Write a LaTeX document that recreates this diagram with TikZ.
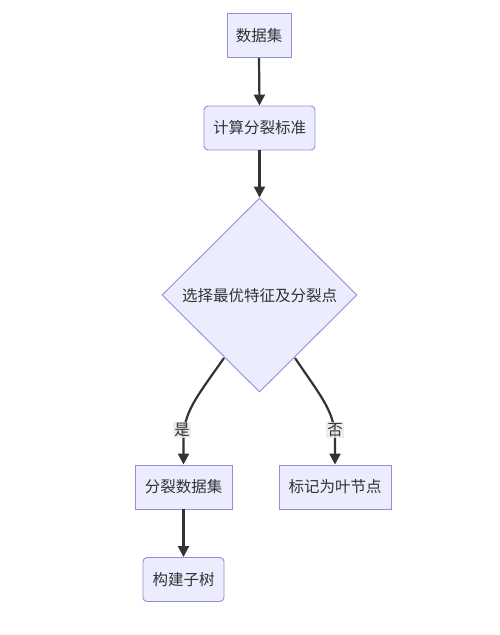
\documentclass[tikz,border=0pt]{standalone}
\usepackage{fontspec}
\setmainfont{Noto Sans CJK SC}
\usetikzlibrary{shapes.geometric,arrows.meta}
\definecolor{nodefill}{HTML}{ECECFF}
\definecolor{nodeline}{HTML}{9A8BD6}
\definecolor{edgecol}{HTML}{333333}
\definecolor{lblbg}{HTML}{E8E8E8}
\tikzset{
  box/.style={draw=nodeline, fill=nodefill, line width=0.9pt, text=edgecol, font=\fontsize{15.5}{18}\selectfont, inner sep=0pt, minimum height=44pt},
  rbox/.style={box, rounded corners=4pt},
  decision/.style={draw=nodeline, fill=nodefill, line width=0.9pt, diamond, aspect=1, inner sep=0pt, minimum width=195pt, minimum height=194pt},
  flow/.style={draw=edgecol, line width=2.2pt, -{Triangle[length=11pt,width=11pt]}},
  lbl/.style={fill=lblbg, fill opacity=0.8, text opacity=1, text=edgecol, font=\fontsize{15.5}{18}\selectfont, inner sep=1pt}
}
\begin{document}
\begin{tikzpicture}[x=1pt,y=-1pt]
\useasboundingbox (0,0) rectangle (500,635);
\fill[white] (0,0) rectangle (500,635);
\node[box, minimum width=64pt] (ds) at (259,35.5) {数据集};
\node[rbox, minimum width=111pt] (calc) at (259.5,128) {计算分裂标准};
\node[decision] (dec) at (259.5,295) {};
\node[text=edgecol, font=\fontsize{15.5}{18}\selectfont] (dectext) at (259.5,296) {选择最优特征及分裂点};
\node[box, minimum width=97pt] (split) at (183.5,487) {分裂数据集};
\node[box, minimum width=112pt] (leaf) at (335,487) {标记为叶节点};
\node[rbox, minimum width=81pt] (sub) at (183.5,579.5) {构建子树};
\coordinate (l0) at (224,358);
\coordinate (r0) at (295,358);
\draw[flow] (ds.south) -- (calc.north);
\draw[flow] (calc.south) -- (dec.north);
\draw[flow] (l0) .. controls (196,398) and (183.5,412) .. (183.5,440) -- (split.north);
\draw[flow] (r0) .. controls (322,398) and (335,412) .. (335,440) -- (leaf.north);
\draw[flow] (split.south) -- (sub.north);
\node[lbl] (yes) at (182,430) {是};
\node[lbl] (no) at (335,430) {否};
\end{tikzpicture}
\end{document}
